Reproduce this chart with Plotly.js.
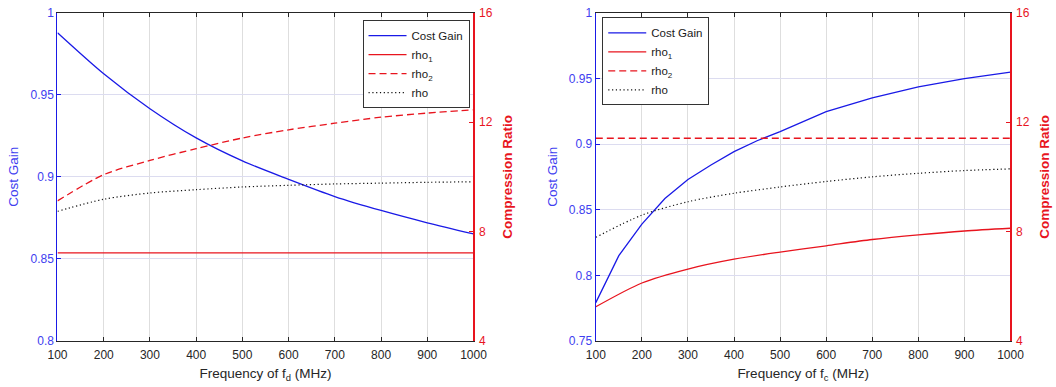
<!DOCTYPE html>
<html>
<head>
<meta charset="utf-8">
<script src="https://cdn.plot.ly/plotly-3.0.1.min.js"></script>
<style>
html,body{margin:0;padding:0;background:#fff;}
#chart{width:1056px;height:387px;}
</style>
</head>
<body>
<div id="chart"></div>
<script>
// ---- Left panel: varying f_d ----
const freqFd = [100, 200, 300, 400, 500, 600, 700, 800, 900, 1000];
const costGainFd = [0.9878, 0.9628, 0.9415, 0.9237, 0.9097, 0.8985, 0.8880, 0.8795, 0.8720, 0.8652];
const rho1Fd = [7.22, 7.22, 7.22, 7.22, 7.22, 7.22, 7.22, 7.22, 7.22, 7.22];
const rho2Fd = [9.12, 10.08, 10.60, 11.03, 11.42, 11.72, 11.96, 12.18, 12.33, 12.45];
const rhoFd = [8.74, 9.18, 9.41, 9.53, 9.63, 9.69, 9.74, 9.77, 9.80, 9.82];

// ---- Right panel: varying f_c ----
const freqFcCost = [100, 150, 200, 250, 300, 350, 400, 450, 500, 600, 700, 800, 900, 1000];
const costGainFc = [0.7792, 0.8150, 0.8390, 0.8585, 0.8730, 0.8840, 0.8942, 0.9025, 0.9095, 0.9246, 0.9352, 0.9435, 0.9498, 0.9547];
const freqFc = [100, 200, 300, 400, 500, 600, 700, 800, 900, 1000];
const rho1Fc = [5.25, 6.12, 6.63, 6.99, 7.25, 7.48, 7.71, 7.88, 8.02, 8.12];
const rho2Fc = [11.41, 11.41, 11.41, 11.41, 11.41, 11.41, 11.41, 11.41, 11.41, 11.41];
const rhoFc = [7.79, 8.60, 9.09, 9.40, 9.63, 9.83, 10.00, 10.13, 10.23, 10.29];

// ---- Axis ticks ----
const xTicks = [100, 200, 300, 400, 500, 600, 700, 800, 900, 1000];
const xTickText = ['100', '200', '300', '400', '500', '600', '700', '800', '900', '1000'];
const costTicksFd = [0.8, 0.85, 0.9, 0.95, 1];
const costTickTextFd = ['0.8', '0.85', '0.9', '0.95', '1'];
const costTicksFc = [0.75, 0.8, 0.85, 0.9, 0.95, 1];
const costTickTextFc = ['0.75', '0.8', '0.85', '0.9', '0.95', '1'];
const ratioTicks = [4, 8, 12, 16];
const ratioTickText = ['4', '8', '12', '16'];

const seriesNames = ['Cost Gain', 'rho<sub>1</sub>', 'rho<sub>2</sub>', 'rho'];

const BLUE = '#1a1ae6';
const BLUE_TXT = '#4040f0';
const RED = '#e8141e';
const FONT = '"Liberation Sans", Arial, Helvetica, sans-serif';

const traces = [
  {x: freqFd, y: costGainFd, name: seriesNames[0], xaxis: 'x', yaxis: 'y', legend: 'legend',
   mode: 'lines', line: {color: BLUE, width: 1.3, shape: 'spline', smoothing: 0.8}},
  {x: freqFd, y: rho1Fd, name: seriesNames[1], xaxis: 'x', yaxis: 'y2', legend: 'legend',
   mode: 'lines', line: {color: RED, width: 1.3}},
  {x: freqFd, y: rho2Fd, name: seriesNames[2], xaxis: 'x', yaxis: 'y2', legend: 'legend',
   mode: 'lines', line: {color: RED, width: 1.3, dash: '7px,4px', shape: 'spline', smoothing: 0.8}},
  {x: freqFd, y: rhoFd, name: seriesNames[3], xaxis: 'x', yaxis: 'y2', legend: 'legend',
   mode: 'lines', line: {color: '#111111', width: 1.2, dash: '1.2px,2.6px', shape: 'spline', smoothing: 0.8}},

  {x: freqFcCost, y: costGainFc, name: seriesNames[0], xaxis: 'x2', yaxis: 'y3', legend: 'legend2',
   mode: 'lines', line: {color: BLUE, width: 1.3}},
  {x: freqFc, y: rho1Fc, name: seriesNames[1], xaxis: 'x2', yaxis: 'y4', legend: 'legend2',
   mode: 'lines', line: {color: RED, width: 1.3, shape: 'spline', smoothing: 0.8}},
  {x: freqFc, y: rho2Fc, name: seriesNames[2], xaxis: 'x2', yaxis: 'y4', legend: 'legend2',
   mode: 'lines', line: {color: RED, width: 1.3, dash: '7px,4px'}},
  {x: freqFc, y: rhoFc, name: seriesNames[3], xaxis: 'x2', yaxis: 'y4', legend: 'legend2',
   mode: 'lines', line: {color: '#111111', width: 1.2, dash: '1.2px,2.6px', shape: 'spline', smoothing: 0.8}}
];

function xAxis(domain, anchor, sub) {
  return {
    domain: domain, anchor: anchor, range: [100, 1000],
    tickvals: xTicks, ticktext: xTickText,
    ticks: 'inside', ticklen: 4, tickcolor: '#262626',
    showline: true, linecolor: '#262626', linewidth: 1, mirror: 'ticks',
    showgrid: true, gridcolor: '#dedede', gridwidth: 1, zeroline: false,
    tickfont: {size: 12, color: '#262626'}, ticklabelstandoff: 3,
    title: {text: 'Frequency of f<sub>' + sub + '</sub> (MHz)', font: {size: 13.5, color: '#262626'}, standoff: 7},
    automargin: false, fixedrange: true
  };
}
function yLeft(domain, anchor, range, vals, txt) {
  return {
    domain: domain, anchor: anchor, range: range,
    tickvals: vals, ticktext: txt,
    ticks: 'inside', ticklen: 4, tickcolor: BLUE,
    showline: true, linecolor: BLUE, linewidth: 1.2,
    showgrid: true, gridcolor: '#dcdcf0', gridwidth: 1, zeroline: false,
    tickfont: {size: 12, color: BLUE_TXT},
    title: {text: 'Cost Gain', font: {size: 13.5, color: BLUE_TXT}, standoff: 8},
    automargin: false, fixedrange: true
  };
}
function yRight(overlay, anchor) {
  return {
    overlaying: overlay, anchor: anchor, side: 'right', range: [4, 16],
    tickvals: ratioTicks, ticktext: ratioTickText,
    ticks: 'inside', ticklen: 4, tickcolor: RED,
    showline: true, linecolor: RED, linewidth: 1.2,
    showgrid: false, zeroline: false,
    tickfont: {size: 12, color: RED}, ticklabelstandoff: 2,
    title: {text: '<b>Compression Ratio</b>', font: {size: 13.5, color: RED}, standoff: 10},
    automargin: false, fixedrange: true
  };
}

const yDom = [0.1189, 0.9672];
const legendStyle = (x, y) => ({
  x: x, y: y, xanchor: 'left', yanchor: 'top', xref: 'paper', yref: 'paper',
  bgcolor: '#ffffff', bordercolor: '#333333', borderwidth: 1,
  font: {size: 11.5, color: '#1a1a1a', family: FONT},
  itemwidth: 38, tracegroupgap: 0
});

const layout = {
  width: 1056, height: 387,
  margin: {l: 0, r: 0, t: 0, b: 0},
  paper_bgcolor: '#ffffff', plot_bgcolor: '#ffffff',
  font: {family: FONT, color: '#262626'},
  showlegend: true,
  xaxis: xAxis([0.05445, 0.44839], 'y', 'd'),
  yaxis: yLeft(yDom, 'x', [0.8, 1], costTicksFd, costTickTextFd),
  yaxis2: yRight('y', 'x'),
  xaxis2: xAxis([0.56420, 0.95691], 'y3', 'c'),
  yaxis3: yLeft(yDom, 'x2', [0.75, 1], costTicksFc, costTickTextFc),
  yaxis4: yRight('y3', 'x2'),
  legend: legendStyle(0.3433, 0.948),
  legend2: legendStyle(0.5703, 0.955)
};

Plotly.newPlot('chart', traces, layout, {displayModeBar: false, staticPlot: true});
</script>
</body>
</html>
